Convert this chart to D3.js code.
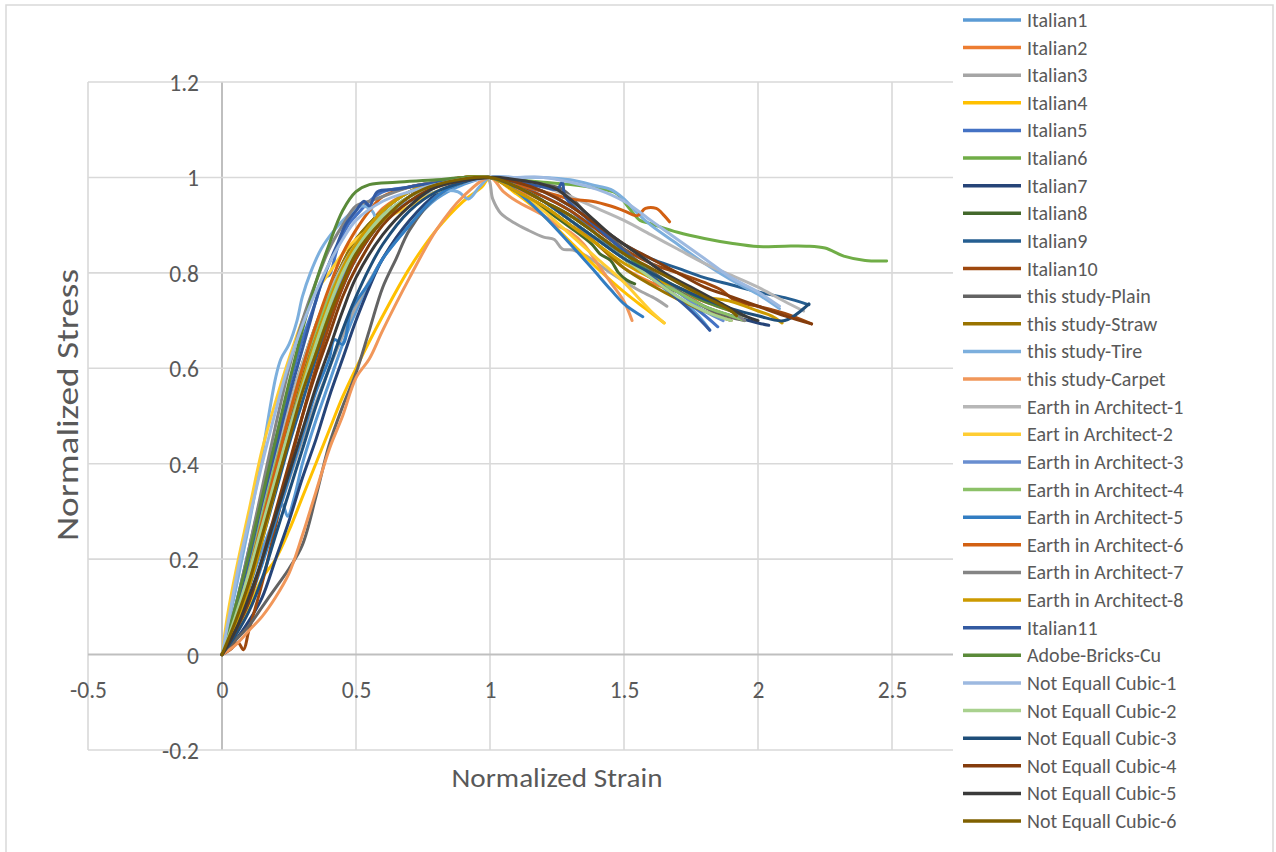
<!DOCTYPE html>
<html><head><meta charset="utf-8">
<script src="https://cdn.jsdelivr.net/npm/d3@7"></script>
<style>
html,body{margin:0;padding:0;background:#fff;}
svg text{font-family:Carlito,Lato,"Open Sans",sans-serif;fill:#595959;}
</style></head>
<body>
<svg id="chart" width="1276" height="852"></svg>
<script>
// ---------- DATA ----------
const seriesNames = ["Italian1","Italian2","Italian3","Italian4","Italian5","Italian6","Italian7","Italian8","Italian9","Italian10",
 "this study-Plain","this study-Straw","this study-Tire","this study-Carpet",
 "Earth in Architect-1","Eart in Architect-2","Earth in Architect-3","Earth in Architect-4","Earth in Architect-5","Earth in Architect-6","Earth in Architect-7","Earth in Architect-8",
 "Italian11","Adobe-Bricks-Cu","Not Equall Cubic-1","Not Equall Cubic-2","Not Equall Cubic-3","Not Equall Cubic-4","Not Equall Cubic-5","Not Equall Cubic-6"];

const seriesColors = ["#5B9BD5","#ED7D31","#A5A5A5","#FFC000","#4472C4","#70AD47","#264478","#43682B","#255E91","#9E480E",
 "#636363","#997300","#7CAFDD","#F1975A","#B7B7B7","#FFCD33","#698ED0","#8CC168","#327DC2","#D26012","#848484","#CC9A00",
 "#335AA1","#5A8A39","#9DB9E0","#A9D18E","#1F4E79","#843C0C","#3A3A3A","#7F6000"];

const xTicks = [-0.5,0,0.5,1,1.5,2,2.5,3];
const yTicks = [-0.2,0,0.2,0.4,0.6,0.8,1,1.2];

const italian1 = [[0,0],[0.05,0.06],[0.1,0.14],[0.15,0.22],[0.2,0.29],[0.225,0.315],[0.245,0.29],[0.27,0.33],[0.3,0.4],[0.35,0.49],[0.4,0.57],[0.45,0.65],[0.5,0.72],[0.55,0.78],[0.6,0.83],[0.7,0.9],[0.8,0.955],[0.9,0.985],[1,1],[1.1,0.98],[1.2,0.95],[1.3,0.91],[1.4,0.87],[1.5,0.83],[1.6,0.79],[1.7,0.745],[1.76,0.72],[1.8,0.695],[1.82,0.68]];
const italian2 = [[0,0],[0.05,0.08],[0.1,0.18],[0.15,0.3],[0.2,0.41],[0.25,0.5],[0.3,0.58],[0.35,0.67],[0.4,0.74],[0.45,0.8],[0.5,0.86],[0.55,0.9],[0.6,0.935],[0.7,0.97],[0.8,0.99],[1,1],[1.1,0.975],[1.2,0.95],[1.3,0.91],[1.4,0.86],[1.5,0.81],[1.6,0.78],[1.7,0.76],[1.8,0.74],[1.9,0.72],[1.95,0.71]];
const italian3 = [[0,0],[0.1,0.12],[0.2,0.28],[0.3,0.45],[0.4,0.6],[0.5,0.73],[0.6,0.83],[0.7,0.91],[0.8,0.96],[0.9,0.99],[0.99,1],[1.01,0.955],[1.04,0.925],[1.09,0.905],[1.14,0.89],[1.2,0.875],[1.24,0.87],[1.27,0.85],[1.31,0.848],[1.36,0.835],[1.45,0.8],[1.55,0.765],[1.62,0.745],[1.66,0.73]];
const italian4 = [[0,0],[0.05,0.04],[0.1,0.1],[0.15,0.16],[0.2,0.2],[0.25,0.26],[0.3,0.33],[0.35,0.4],[0.4,0.47],[0.45,0.54],[0.5,0.6],[0.6,0.71],[0.7,0.81],[0.8,0.89],[0.9,0.95],[0.97,0.98],[1,1],[1.1,0.965],[1.2,0.92],[1.3,0.865],[1.4,0.81],[1.5,0.76],[1.58,0.725],[1.65,0.695]];
const italian5 = [[0,0],[0.05,0.1],[0.1,0.22],[0.15,0.34],[0.2,0.45],[0.25,0.56],[0.3,0.66],[0.35,0.74],[0.38,0.79],[0.4,0.795],[0.43,0.85],[0.47,0.9],[0.5,0.92],[0.55,0.95],[0.6,0.97],[0.7,0.98],[0.8,0.99],[1,1],[1.1,0.985],[1.2,0.96],[1.3,0.93],[1.4,0.88],[1.5,0.83],[1.6,0.79],[1.7,0.75],[1.78,0.72],[1.85,0.687]];
const italian6 = [[0,0],[0.05,0.08],[0.1,0.17],[0.15,0.27],[0.2,0.37],[0.25,0.47],[0.3,0.56],[0.35,0.64],[0.4,0.72],[0.45,0.78],[0.5,0.84],[0.6,0.91],[0.7,0.95],[0.8,0.98],[0.9,0.995],[1,1],[1.1,0.995],[1.2,0.99],[1.3,0.985],[1.4,0.977],[1.47,0.967],[1.52,0.935],[1.56,0.91],[1.6,0.903],[1.7,0.885],[1.8,0.872],[1.9,0.862],[2.0,0.855],[2.1,0.856],[2.18,0.856],[2.25,0.852],[2.32,0.835],[2.4,0.826],[2.48,0.825]];
const italian7 = [[0,0],[0.05,0.03],[0.1,0.07],[0.15,0.12],[0.2,0.2],[0.25,0.28],[0.3,0.37],[0.35,0.45],[0.4,0.54],[0.45,0.62],[0.5,0.7],[0.55,0.77],[0.6,0.83],[0.7,0.91],[0.8,0.965],[0.9,0.99],[1,1],[1.1,0.98],[1.2,0.95],[1.3,0.91],[1.4,0.87],[1.5,0.83],[1.6,0.79],[1.7,0.76],[1.8,0.73],[1.9,0.71],[2.0,0.695],[2.04,0.69]];
const italian8 = [[0,0],[0.05,0.09],[0.1,0.2],[0.15,0.31],[0.2,0.42],[0.25,0.52],[0.3,0.61],[0.35,0.69],[0.4,0.76],[0.45,0.82],[0.5,0.87],[0.6,0.93],[0.7,0.97],[0.8,0.99],[1,1],[1.1,0.97],[1.2,0.935],[1.3,0.895],[1.38,0.86],[1.41,0.84],[1.45,0.826],[1.48,0.8],[1.51,0.785],[1.54,0.777]];
const italian9 = [[0,0],[0.05,0.06],[0.1,0.14],[0.15,0.24],[0.2,0.34],[0.25,0.44],[0.3,0.53],[0.35,0.62],[0.4,0.7],[0.45,0.77],[0.5,0.83],[0.6,0.91],[0.7,0.96],[0.8,0.99],[1,1],[1.1,0.99],[1.2,0.97],[1.3,0.94],[1.4,0.9],[1.5,0.86],[1.6,0.83],[1.7,0.81],[1.8,0.79],[1.9,0.775],[2.0,0.76],[2.1,0.748],[2.19,0.733]];
const italian10 = [[0,0],[0.03,0.01],[0.06,0.025],[0.08,0.01],[0.1,0.05],[0.15,0.15],[0.2,0.27],[0.25,0.39],[0.3,0.5],[0.35,0.6],[0.4,0.69],[0.45,0.77],[0.5,0.83],[0.6,0.91],[0.7,0.96],[0.8,0.99],[1,1],[1.1,0.98],[1.2,0.96],[1.3,0.93],[1.4,0.89],[1.5,0.85],[1.6,0.82],[1.7,0.8],[1.8,0.78],[1.86,0.765],[1.92,0.74],[2.0,0.73],[2.1,0.715],[2.2,0.693]];
const plain = [[0,0],[0.05,0.03],[0.1,0.06],[0.15,0.1],[0.2,0.14],[0.25,0.18],[0.3,0.23],[0.35,0.33],[0.4,0.44],[0.45,0.52],[0.5,0.59],[0.55,0.68],[0.6,0.77],[0.65,0.83],[0.7,0.89],[0.8,0.96],[0.9,0.99],[1,1],[1.1,0.995],[1.2,0.985],[1.27,0.975],[1.35,0.93],[1.45,0.875],[1.55,0.825],[1.65,0.785],[1.75,0.745],[1.85,0.715],[1.95,0.7]];
const straw = [[0,0],[0.05,0.06],[0.1,0.15],[0.15,0.26],[0.2,0.37],[0.25,0.48],[0.3,0.58],[0.35,0.67],[0.4,0.75],[0.45,0.82],[0.5,0.87],[0.6,0.93],[0.7,0.97],[0.8,0.99],[1,1],[1.1,0.97],[1.2,0.94],[1.3,0.9],[1.4,0.86],[1.5,0.81],[1.6,0.775],[1.7,0.745],[1.8,0.72],[1.9,0.7]];
const tire = [[0,0],[0.03,0.08],[0.06,0.16],[0.1,0.27],[0.15,0.42],[0.2,0.58],[0.22,0.62],[0.25,0.65],[0.28,0.7],[0.3,0.75],[0.33,0.8],[0.37,0.85],[0.42,0.89],[0.47,0.92],[0.52,0.94],[0.56,0.93],[0.58,0.91],[0.61,0.925],[0.7,0.95],[0.8,0.97],[0.88,0.97],[0.92,0.955],[0.96,0.98],[1,1],[1.1,1.0],[1.2,1.0],[1.3,0.995],[1.4,0.982],[1.45,0.975],[1.5,0.955],[1.55,0.925],[1.6,0.9],[1.7,0.86],[1.8,0.82],[1.9,0.785],[2.0,0.755],[2.08,0.725]];
const carpet = [[0,0],[0.05,0.02],[0.1,0.05],[0.15,0.08],[0.2,0.12],[0.25,0.17],[0.3,0.25],[0.35,0.34],[0.4,0.43],[0.45,0.5],[0.5,0.58],[0.55,0.62],[0.6,0.68],[0.7,0.79],[0.8,0.89],[0.9,0.96],[1,1],[1.05,0.97],[1.1,0.95],[1.2,0.92],[1.25,0.9],[1.3,0.885],[1.35,0.86],[1.4,0.82],[1.45,0.78],[1.5,0.74],[1.53,0.7]];
const eia1 = [[0,0],[0.05,0.1],[0.1,0.2],[0.15,0.31],[0.2,0.42],[0.25,0.52],[0.3,0.61],[0.35,0.69],[0.4,0.76],[0.5,0.86],[0.6,0.92],[0.7,0.96],[0.8,0.98],[1,1],[1.1,0.99],[1.2,0.98],[1.3,0.96],[1.4,0.935],[1.5,0.91],[1.6,0.88],[1.7,0.85],[1.8,0.82],[1.9,0.795],[2.0,0.77],[2.1,0.74],[2.17,0.72]];
const eia2 = [[0,0],[0.02,0.08],[0.05,0.17],[0.1,0.3],[0.15,0.43],[0.2,0.53],[0.25,0.62],[0.3,0.7],[0.35,0.76],[0.4,0.8],[0.45,0.84],[0.5,0.87],[0.6,0.91],[0.7,0.94],[0.8,0.97],[0.9,0.99],[1,1],[1.1,0.97],[1.2,0.93],[1.3,0.88],[1.4,0.83],[1.5,0.78],[1.55,0.75],[1.6,0.72],[1.65,0.695]];
const eia3 = [[0,0],[0.05,0.07],[0.1,0.16],[0.15,0.26],[0.2,0.37],[0.25,0.47],[0.3,0.57],[0.35,0.66],[0.4,0.73],[0.45,0.79],[0.5,0.85],[0.6,0.92],[0.7,0.96],[0.8,0.985],[1,1],[1.1,0.98],[1.2,0.95],[1.3,0.92],[1.4,0.88],[1.5,0.84],[1.6,0.8],[1.7,0.76],[1.8,0.72],[1.87,0.7]];
const eia4 = [[0,0],[0.05,0.08],[0.1,0.18],[0.15,0.29],[0.2,0.4],[0.25,0.5],[0.3,0.6],[0.35,0.68],[0.4,0.75],[0.45,0.81],[0.5,0.86],[0.6,0.93],[0.7,0.97],[0.8,0.99],[1,1],[1.1,0.98],[1.2,0.95],[1.3,0.91],[1.4,0.87],[1.5,0.83],[1.6,0.79],[1.7,0.76],[1.8,0.73],[1.9,0.71],[1.95,0.7]];
const eia5 = [[0,0],[0.05,0.05],[0.1,0.11],[0.15,0.19],[0.2,0.28],[0.25,0.37],[0.3,0.46],[0.35,0.55],[0.4,0.62],[0.42,0.66],[0.45,0.65],[0.48,0.72],[0.5,0.74],[0.55,0.78],[0.6,0.83],[0.7,0.9],[0.8,0.96],[0.9,0.99],[1,1],[1.1,0.97],[1.2,0.92],[1.3,0.86],[1.38,0.81],[1.45,0.765],[1.5,0.735],[1.57,0.708]];
const eia6 = [[0,0],[0.05,0.07],[0.1,0.17],[0.15,0.28],[0.2,0.39],[0.25,0.5],[0.3,0.6],[0.35,0.69],[0.4,0.77],[0.45,0.84],[0.5,0.89],[0.55,0.93],[0.6,0.96],[0.7,0.98],[0.8,0.99],[1,1],[1.1,0.985],[1.2,0.97],[1.3,0.955],[1.38,0.95],[1.45,0.94],[1.5,0.93],[1.55,0.92],[1.58,0.935],[1.62,0.935],[1.65,0.92],[1.67,0.907]];
const eia7 = [[0,0],[0.05,0.1],[0.1,0.22],[0.15,0.35],[0.2,0.48],[0.25,0.6],[0.3,0.7],[0.35,0.78],[0.4,0.85],[0.45,0.9],[0.5,0.94],[0.55,0.95],[0.6,0.96],[0.7,0.98],[0.8,0.99],[1,1],[1.1,0.99],[1.2,0.97],[1.3,0.94],[1.4,0.9],[1.5,0.86],[1.6,0.82],[1.7,0.78],[1.8,0.75],[1.9,0.72],[1.95,0.7]];
const eia8 = [[0,0],[0.05,0.06],[0.1,0.14],[0.15,0.24],[0.2,0.35],[0.25,0.46],[0.3,0.57],[0.35,0.66],[0.4,0.74],[0.45,0.81],[0.5,0.86],[0.6,0.93],[0.7,0.97],[0.8,0.99],[1,1],[1.1,0.97],[1.2,0.94],[1.3,0.9],[1.4,0.86],[1.5,0.82],[1.6,0.79],[1.7,0.77],[1.8,0.75],[1.9,0.74],[2.0,0.72],[2.05,0.71],[2.09,0.695]];
const italian11 = [[0,0],[0.05,0.09],[0.1,0.2],[0.15,0.32],[0.2,0.43],[0.25,0.54],[0.3,0.64],[0.33,0.7],[0.36,0.76],[0.4,0.82],[0.43,0.86],[0.46,0.9],[0.5,0.93],[0.53,0.95],[0.55,0.94],[0.58,0.97],[0.65,0.975],[0.75,0.985],[0.9,0.995],[1,1],[1.1,0.99],[1.2,0.98],[1.25,0.975],[1.27,0.99],[1.28,0.96],[1.35,0.92],[1.45,0.87],[1.55,0.82],[1.65,0.77],[1.75,0.72],[1.82,0.68]];
const adobe = [[0,0],[0.05,0.1],[0.1,0.21],[0.15,0.33],[0.2,0.45],[0.25,0.57],[0.3,0.68],[0.35,0.78],[0.4,0.86],[0.45,0.93],[0.5,0.97],[0.55,0.985],[0.65,0.99],[0.8,0.995],[0.9,1.0],[1,1],[1.1,0.98],[1.2,0.95],[1.3,0.92],[1.4,0.88],[1.5,0.84],[1.6,0.8],[1.7,0.77],[1.8,0.74],[1.9,0.72],[1.95,0.71]];
const nec1 = [[0,0],[0.03,0.09],[0.06,0.18],[0.1,0.28],[0.15,0.4],[0.2,0.51],[0.25,0.61],[0.3,0.69],[0.35,0.76],[0.4,0.82],[0.45,0.87],[0.5,0.91],[0.6,0.95],[0.7,0.97],[0.8,0.985],[0.9,0.99],[1,1],[1.1,1.0],[1.2,1.0],[1.3,0.99],[1.4,0.975],[1.5,0.95],[1.6,0.91],[1.7,0.87],[1.8,0.83],[1.9,0.79],[2.0,0.76],[2.08,0.73]];
const nec2 = [[0,0],[0.05,0.08],[0.1,0.17],[0.15,0.27],[0.2,0.37],[0.25,0.47],[0.3,0.56],[0.35,0.65],[0.4,0.73],[0.45,0.8],[0.5,0.85],[0.6,0.92],[0.7,0.96],[0.8,0.985],[1,1],[1.1,0.98],[1.2,0.95],[1.3,0.91],[1.4,0.87],[1.5,0.83],[1.6,0.79],[1.7,0.75],[1.8,0.72],[1.9,0.7]];
const nec3 = [[0,0],[0.05,0.04],[0.1,0.09],[0.15,0.16],[0.2,0.25],[0.25,0.34],[0.3,0.43],[0.35,0.52],[0.4,0.6],[0.45,0.68],[0.5,0.75],[0.55,0.81],[0.6,0.86],[0.7,0.93],[0.8,0.97],[0.9,0.99],[1,1],[1.1,0.98],[1.2,0.95],[1.3,0.91],[1.4,0.87],[1.5,0.83],[1.6,0.8],[1.7,0.77],[1.8,0.745],[1.9,0.725],[2.0,0.71],[2.1,0.7],[2.19,0.735]];
const nec4 = [[0,0],[0.05,0.05],[0.1,0.11],[0.15,0.2],[0.2,0.3],[0.25,0.4],[0.3,0.5],[0.35,0.59],[0.4,0.67],[0.45,0.75],[0.5,0.81],[0.6,0.9],[0.7,0.95],[0.8,0.98],[1,1],[1.1,0.99],[1.2,0.97],[1.3,0.94],[1.4,0.9],[1.5,0.86],[1.6,0.83],[1.7,0.8],[1.8,0.77],[1.9,0.75],[2.0,0.73],[2.1,0.71],[2.2,0.693]];
const nec5 = [[0,0],[0.05,0.05],[0.1,0.12],[0.15,0.2],[0.2,0.29],[0.25,0.38],[0.3,0.47],[0.35,0.56],[0.4,0.64],[0.45,0.72],[0.5,0.79],[0.6,0.88],[0.7,0.94],[0.8,0.98],[1,1],[1.1,0.995],[1.2,0.985],[1.25,0.975],[1.35,0.93],[1.45,0.88],[1.55,0.84],[1.65,0.8],[1.75,0.77],[1.85,0.74],[1.95,0.71],[2.0,0.7]];
const nec6 = [[0,0],[0.05,0.07],[0.1,0.15],[0.15,0.25],[0.2,0.35],[0.25,0.45],[0.3,0.55],[0.35,0.63],[0.4,0.71],[0.45,0.78],[0.5,0.84],[0.6,0.91],[0.7,0.96],[0.8,0.985],[1,1],[1.1,0.98],[1.2,0.95],[1.3,0.92],[1.4,0.88],[1.5,0.84],[1.6,0.81],[1.7,0.78],[1.8,0.75],[1.9,0.72],[1.92,0.71]];

const seriesValues = [italian1,italian2,italian3,italian4,italian5,italian6,italian7,italian8,italian9,italian10,
 plain,straw,tire,carpet,eia1,eia2,eia3,eia4,eia5,eia6,eia7,eia8,italian11,adobe,nec1,nec2,nec3,nec4,nec5,nec6];

// ---------- DRAW ----------
const svg = d3.select("#chart");
const x = d3.scaleLinear().domain([-0.5,3]).range([88,1026]);
const y = d3.scaleLinear().domain([-0.2,1.2]).range([750,82]);

// outer frame
svg.append("rect").attr("x",6).attr("y",5).attr("width",1267).attr("height",860)
  .attr("fill","#fff").attr("stroke","#d9d9d9").attr("stroke-width",1.5);

// gridlines
const grid = svg.append("g");
grid.selectAll("line.v").data(xTicks).join("line")
  .attr("x1",d=>x(d)).attr("x2",d=>x(d)).attr("y1",y(1.2)).attr("y2",y(-0.2))
  .attr("stroke",d=>d===0?"#bfbfbf":"#d9d9d9").attr("stroke-width",d=>d===0?2:1.6);
grid.selectAll("line.h").data(yTicks).join("line")
  .attr("x1",x(-0.5)).attr("x2",x(3)).attr("y1",d=>y(d)).attr("y2",d=>y(d))
  .attr("stroke",d=>d===0?"#bfbfbf":"#d9d9d9").attr("stroke-width",d=>d===0?2:1.6);

// tick labels via axes
const fmt = d=>String(d);
const yAxis = svg.append("g").attr("transform",`translate(${x(-0.5)},0)`)
  .call(d3.axisLeft(y).tickValues(yTicks).tickFormat(fmt).tickSize(0));
yAxis.select(".domain").remove();
yAxis.selectAll("text").attr("font-size",23.5).attr("fill","#595959").attr("text-anchor","end")
  .attr("x",111).attr("dy","0.36em");
const xAxis = svg.append("g").attr("transform",`translate(0,${y(0)})`)
  .call(d3.axisBottom(x).tickValues(xTicks.slice(0,7)).tickFormat(fmt).tickSize(0).tickPadding(27));
xAxis.select(".domain").remove();
xAxis.selectAll("text").attr("font-size",23.5).attr("fill","#595959");

// axis titles
svg.append("text").attr("x",557).attr("y",787).attr("text-anchor","middle")
  .attr("font-size",26).attr("textLength",211).attr("lengthAdjust","spacingAndGlyphs").text("Normalized Strain");
svg.append("text").attr("transform","translate(78,405) rotate(-90)").attr("text-anchor","middle")
  .attr("font-size",30).attr("textLength",272).attr("lengthAdjust","spacingAndGlyphs").text("Normalized Stress");

// series lines
const line = d3.line().x(d=>x(d[0])).y(d=>y(d[1])).curve(d3.curveCatmullRom.alpha(0.5));
svg.append("g").selectAll("path").data(seriesValues).join("path")
  .attr("d",line).attr("fill","none")
  .attr("stroke",(d,i)=>seriesColors[i]).attr("stroke-width",3)
  .attr("stroke-linejoin","round").attr("stroke-linecap","round");

// legend
const lg = svg.append("g");
lg.append("rect").attr("x",953).attr("y",7).attr("width",313).attr("height",830).attr("fill","#fff");
const rowY = d3.scaleLinear().domain([0,29]).range([20,821]);
const items = lg.selectAll("g").data(seriesNames).join("g")
  .attr("transform",(d,i)=>`translate(0,${rowY(i)})`);
items.append("line").attr("x1",963).attr("x2",1021).attr("y1",0).attr("y2",0)
  .attr("stroke",(d,i)=>seriesColors[i]).attr("stroke-width",3.5);
items.append("text").attr("x",1027).attr("y",0).attr("dy","0.35em")
  .attr("font-size",20).attr("fill","#595959").text(d=>d);
</script>
</body></html>
